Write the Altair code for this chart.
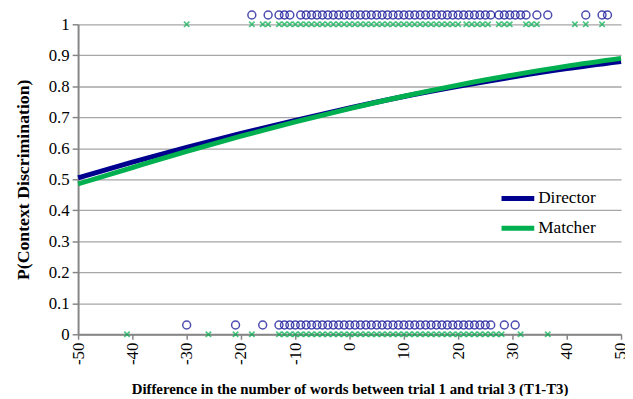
import altair as alt
import pandas as pd

# Fitted curves
curve_x = [-50, -40, -30, -20, -10, 0, 10, 20, 30, 40, 50]
director_p = [0.505, 0.555, 0.603, 0.648, 0.690, 0.730, 0.767, 0.800, 0.830, 0.857, 0.880]
matcher_p = [0.485, 0.538, 0.590, 0.639, 0.685, 0.728, 0.768, 0.804, 0.836, 0.865, 0.890]

# Observations (Director circles drawn slightly offset above 0 / 1)
director_hit_x = [-18, -15, -13, -12, -11, -9, -8, -7, -6, -5, -4, -3, -2, -1, 0, 1, 2, 3, 4,
                  5, 6, 7, 8, 9, 10, 11, 12, 13, 14, 15, 16, 17, 18, 19, 20, 21, 22, 23, 24,
                  25, 26, 27.5, 28.5, 29.5, 30.5, 31.5, 32.5, 34.5, 36.5, 43.5, 46.5, 47.5]
director_miss_x = [-30, -21, -16, -13, -12, -11, -10, -9, -8, -7, -6, -5, -4, -3, -2, -1, 0,
                   1, 2, 3, 4, 5, 6, 7, 8, 9, 10, 11, 12, 13, 14, 15, 16, 17, 18, 19, 20, 21,
                   22, 23, 24, 25, 26, 28.5, 30.5]
matcher_hit_x = [-30, -18, -16, -15, -13, -12, -11, -10, -9, -8, -7, -6, -5, -4, -3, -2, -1,
                 0, 1, 2, 3, 4, 5, 6, 7, 8, 9, 10, 11, 12, 13, 14, 15, 16, 17, 18, 19, 20,
                 21.5, 22.5, 23.5, 24.5, 25.5, 27.5, 28.5, 29.5, 32.5, 33.5, 34.5, 41.5,
                 43.5, 46.5]
matcher_miss_x = [-41, -26, -21, -18, -13, -12, -11, -10, -9, -8, -7, -6, -5, -4, -3, -2, -1,
                  0, 1, 2, 3, 4, 5, 6, 7, 8, 9, 10, 11, 12, 13, 14, 15, 16, 17, 18, 19, 20,
                  21, 22, 23, 24, 25, 26, 27, 28, 31.5, 36.5]
director_hit_y = 1.03
director_miss_y = 0.03
matcher_hit_y = 1.0
matcher_miss_y = 0.0

x_ticks = [-50, -40, -30, -20, -10, 0, 10, 20, 30, 40, 50]
y_ticks = [0, 0.1, 0.2, 0.3, 0.4, 0.5, 0.6, 0.7, 0.8, 0.9, 1]
series = ["Director", "Matcher"]
colors = ["#00008F", "#00B050"]

FONT = "Times New Roman, Liberation Serif, serif"

dir_pts = pd.DataFrame({
    "x": director_hit_x + director_miss_x,
    "y": [director_hit_y] * len(director_hit_x) + [director_miss_y] * len(director_miss_x),
})
mat_pts = pd.DataFrame({
    "x": matcher_hit_x + matcher_miss_x,
    "y": [matcher_hit_y] * len(matcher_hit_x) + [matcher_miss_y] * len(matcher_miss_x),
})
dir_line = pd.DataFrame({"x": curve_x, "p": director_p, "role": "Director"})
mat_line = pd.DataFrame({"x": curve_x, "p": matcher_p, "role": "Matcher"})

xscale = alt.Scale(domain=[-50, 50], nice=False, zero=False)
yscale = alt.Scale(domain=[0, 1], nice=False)

xaxis = alt.Axis(
    values=x_ticks, labelAngle=270, labelExpr="toString(datum.value)",
    title="Difference in the number of words between trial 1 and trial 3 (T1-T3)",
    grid=False, tickSize=5, labelPadding=3, titlePadding=17,
)
yaxis = alt.Axis(
    values=y_ticks, labelExpr="toString(datum.value)",
    title="P(Context Discrimination)", grid=True, tickSize=6, labelPadding=3,
    titlePadding=16,
)

x_enc = alt.X("x:Q", scale=xscale, axis=xaxis)

d_points = alt.Chart(dir_pts).mark_point(
    shape="circle", filled=False, color=colors[0], size=64, strokeWidth=1.5
).encode(x=x_enc, y=alt.Y("y:Q", scale=yscale, axis=yaxis))

m_points = alt.Chart(mat_pts).mark_point(
    shape="M-1,-1L1,1M-1,1L1,-1", filled=False, color=colors[1], size=30, strokeWidth=1.7
).encode(x=x_enc, y=alt.Y("y:Q", scale=yscale, axis=yaxis))

color_enc = alt.Color(
    "role:N",
    scale=alt.Scale(domain=series, range=colors),
    legend=alt.Legend(
        title=None, orient="none", legendX=426, legendY=157,
        symbolType="stroke", symbolSize=1100, symbolStrokeWidth=5,
        labelFont=FONT, labelFontSize=17.5, labelColor="black", labelOffset=1,
        rowPadding=-1,
    ),
)

d_line = alt.Chart(dir_line).mark_line(strokeWidth=5, interpolate="monotone").encode(
    x=x_enc, y=alt.Y("p:Q", scale=yscale, axis=yaxis), color=color_enc
)
m_line = alt.Chart(mat_line).mark_line(strokeWidth=5, interpolate="monotone").encode(
    x=x_enc, y=alt.Y("p:Q", scale=yscale, axis=yaxis), color=color_enc
)

chart = alt.layer(d_points, m_points, d_line, m_line).properties(
    width=550, height=314,
    autosize=alt.AutoSizeParams(type="none"),
    padding={"left": 71, "top": 14, "right": 4, "bottom": 60},
).configure_view(stroke=None).configure_axis(
    labelFont=FONT, labelFontSize=17, labelColor="black",
    titleFont=FONT, titleColor="black", titleFontWeight="bold",
    domainColor="#868686", domainWidth=2, tickColor="#868686", tickWidth=1.5,
    gridColor="#a6a6a6", gridWidth=1.3,
).configure_axisY(titleFontSize=18).configure_axisX(titleFontSize=15)

chart.save("out.html", embed_options={"renderer": "svg", "actions": False})
